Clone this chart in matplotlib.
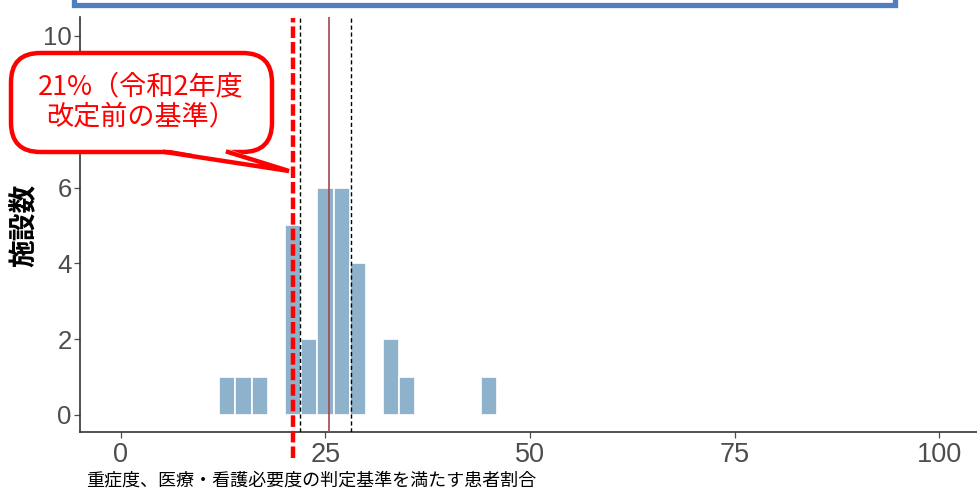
import matplotlib
matplotlib.use("Agg")
import matplotlib.pyplot as plt
from matplotlib.patches import FancyBboxPatch, Polygon, Rectangle
from matplotlib.lines import Line2D

# ---- data ----
bin_left = [12, 14, 16, 20, 22, 24, 26, 28, 32, 34, 44]
counts = [1, 1, 1, 5, 2, 6, 6, 4, 2, 1, 1]
bin_width = 2
threshold = 21.0      # 令和2年度改定前の基準
mean_value = 25.4
ci_low = 21.9
ci_high = 28.1
x_ticks = [0, 25, 50, 75, 100]
y_ticks = [0, 2, 4, 6, 8, 10]
y_tick_labels = ["0", "2", "4", "6", "", "10"]   # 8 is hidden behind the callout
callout_text = "21%（令和2年度\n改定前の基準）"
x_label = "重症度、医療・看護必要度の判定基準を満たす患者割合"
y_label = "施設数"

W, H = 977, 491
fig = plt.figure(figsize=(W / 100, H / 100), dpi=100)
fig.patch.set_facecolor("white")

def fx(px):
    return px / W

def fy(py):
    return 1 - py / H

# axes placement (pixels): left spine 80, bottom 432, top 17, right ~980
ax = fig.add_axes([fx(80), fy(432), (980 - 80) / W, (432 - 17) / H])
ax.set_xlim(-5, 105)
ax.set_ylim(-0.45, 10.5)

ax.bar(bin_left, counts, width=bin_width, align="edge", color="#8fb2cc",
       edgecolor="white", linewidth=1.2, zorder=2)

ax.axvline(ci_low, color="black", lw=1.0, ls=(0, (3, 2)), zorder=3)
ax.axvline(ci_high, color="black", lw=1.0, ls=(0, (3, 2)), zorder=3)
ax.axvline(mean_value, color="#a04848", lw=1.2, zorder=3)
ax.plot([threshold, threshold], [-1.13, 10.47], color="#ff0000", lw=3.2,
        ls=(0, (2.6, 0.9)), clip_on=False, zorder=4)

for s in ["top", "right"]:
    ax.spines[s].set_visible(False)
for s in ["left", "bottom"]:
    ax.spines[s].set_color("#333333")
    ax.spines[s].set_linewidth(1.2)

ax.set_xticks(x_ticks)
ax.set_yticks(y_ticks)
ax.set_yticklabels(y_tick_labels)
ax.tick_params(axis="both", colors="#4d4d4d", labelcolor="#4d4d4d",
               length=4, width=0.9)
ax.tick_params(axis="x", labelsize=19.5, pad=3)
ax.tick_params(axis="y", labelsize=18.5, pad=2)
for lab in ax.get_xticklabels() + ax.get_yticklabels():
    lab.set_family("Liberation Sans")

# labels
fig.text(fx(86), fy(480), x_label, ha="left", va="center", fontsize=13,
         color="black", family=["Noto Sans CJK JP", "DejaVu Sans"])
fig.text(fx(25), fy(225), y_label, ha="center", va="center", fontsize=20,
         rotation=90, fontweight="bold", color="black",
         family=["Noto Sans CJK JP", "DejaVu Sans"])

# callout box
bx0, by0, bx1, by1 = 11, 53, 272, 152
box = FancyBboxPatch((fx(bx0), fy(by1)), fx(bx1) - fx(bx0), fy(by0) - fy(by1),
                     boxstyle="round,pad=0,rounding_size=0.03",
                     transform=fig.transFigure, facecolor="white",
                     edgecolor="#ff0000", linewidth=3.2, zorder=10,
                     mutation_aspect=W / H)
fig.add_artist(box)
b1 = (165, by1)
b2 = (228, by1)
apex = (289, 171)
tail = Polygon([(fx(b1[0]), fy(b1[1] - 3)), (fx(apex[0]), fy(apex[1])),
                (fx(b2[0]), fy(b2[1] - 3))], closed=True,
               transform=fig.transFigure, facecolor="white", edgecolor="none",
               zorder=11)
fig.add_artist(tail)
fig.add_artist(Line2D([fx(b1[0]), fx(apex[0]), fx(b2[0])],
                      [fy(b1[1]), fy(apex[1]), fy(b2[1])],
                      transform=fig.transFigure, color="#ff0000", lw=3.2,
                      solid_joinstyle="miter", zorder=12))
fig.text(fx(141), fy(102), callout_text, ha="center", va="center",
         fontsize=19.5, color="#ff0000", linespacing=1.15, zorder=13,
         family=["Noto Sans CJK JP", "DejaVu Sans"])

# blue frame at top (cropped)
fig.add_artist(Rectangle((fx(74), fy(4.5)), fx(895) - fx(74), fy(-30) - fy(4.5),
                         transform=fig.transFigure, facecolor="white",
                         edgecolor="#4f7fc0", linewidth=3.8, zorder=9))

fig.savefig("out.png", dpi=100, facecolor="white")
